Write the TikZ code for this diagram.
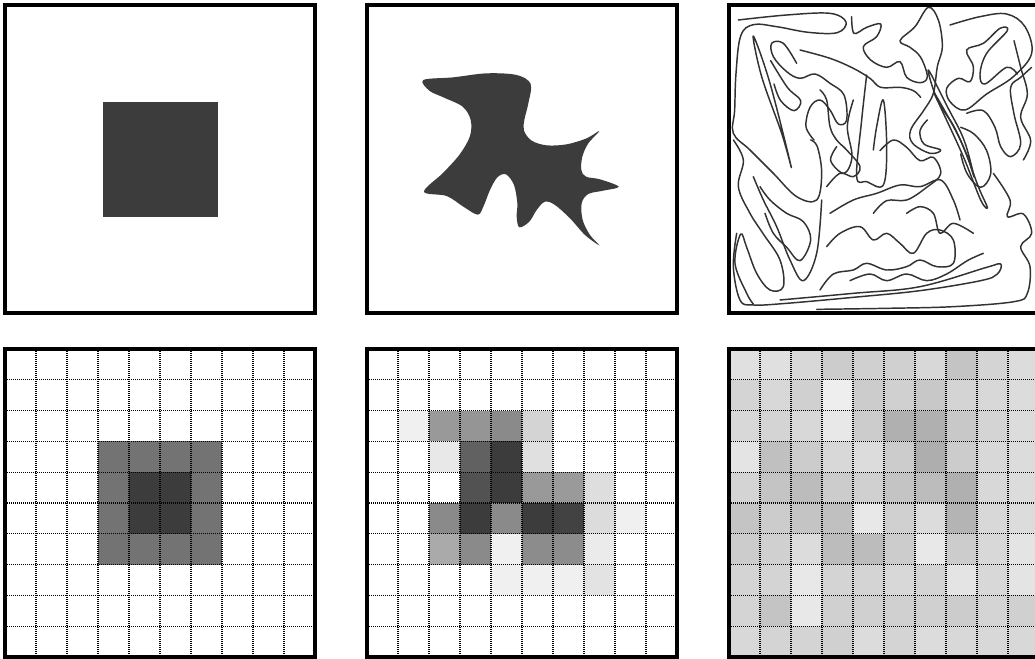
\documentclass[tikz,border=0pt]{standalone}
\begin{document}
\begin{tikzpicture}[x=0.75pt,y=-0.75pt,
  frame/.style={draw=black,line width=2.4pt},
  gridline/.style={draw=black,line width=1pt,dash pattern=on 0.8pt off 0.7pt},
  blobfill/.style={fill={rgb,255:red,60;green,60;blue,60}},
  squig/.style={draw={rgb,255:red,50;green,50;blue,50},line width=1.1pt,line join=round,line cap=round}
]
\useasboundingbox (0,0) rectangle (1035,659);
\clip (0,0) rectangle (1035,659);
\fill[white] (0,0) rectangle (1035,659);

% ---------- top row ----------
% panel 1: square
\fill[blobfill] (103,102) rectangle (218,217);

% panel 2: blob
\begin{scope}[shift={(410,60)},scale=1/3]
\fill[blobfill] plot[smooth cycle,tension=0.55] coordinates {
(40,60) (130,52) (230,40) (320,45) (362,72) (355,130) (343,180) (342,212)
(365,242) (410,256) (470,253) (530,235) (568,213)
(535,250) (517,290) (514,330) (528,350) (570,358) (626,380)
(580,392) (535,402) (515,430) (518,480) (540,525) (568,556)
(525,525) (480,475) (435,435) (405,425) (380,450) (358,485) (328,502) (320,470) (322,430) (312,375) (288,343) (262,352) (240,390) (220,440) (203,464)
(160,440) (110,408) (42,395)
(100,338) (150,282) (180,228) (182,180) (158,140) (100,112) (58,92)};
\end{scope}

% panel 3: squiggle
\begin{scope}
\clip (731,6) rectangle (1040,312);
\begin{scope}[shift={(720,0)},scale=1/3]
\draw[squig] plot[smooth,tension=0.6] coordinates {(55,60) (200,45) (330,40) (378,66) (352,98) (265,97) (170,80) (100,74) (62,108) (48,220) (44,330) (40,400) (90,450) (160,520) (230,590) (290,600) (305,520) (292,440) (272,420)};
\draw[squig] plot[smooth cycle,tension=0.6] coordinates {(100,108) (150,250) (213,498) (185,400) (125,230)};
\draw[squig] plot[smooth,tension=0.6] coordinates {(230,190) (190,130) (155,130) (160,170) (200,215) (240,235) (285,222) (330,250) (372,285) (380,360) (355,372) (330,330) (300,300) (270,322) (258,380) (282,420)};
\draw[squig] plot[smooth,tension=0.6] coordinates {(240,150) (330,175) (400,205) (450,235) (482,262) (540,262) (580,272) (602,292)};
\draw[squig] plot[smooth,tension=0.6] coordinates {(395,50) (402,100) (440,82) (482,72) (470,110) (430,140) (452,180) (500,202) (540,185) (560,232) (600,248) (622,230) (602,172) (570,142) (540,122) (585,80) (625,22) (655,60) (667,140) (652,200) (640,280) (612,330) (572,390) (578,430) (630,460) (662,450) (612,432) (600,392) (622,360)};
\draw[squig] plot[smooth,tension=0.6] coordinates {(690,75) (780,50) (860,42) (915,80) (935,160) (880,230) (800,282) (735,330) (690,305) (680,265) (715,235) (750,245) (760,200) (740,150) (790,130) (840,85) (862,92) (800,160) (780,222) (795,252) (860,202) (892,222)};
\draw[squig] plot[smooth cycle,tension=0.6] coordinates {(625,210) (682,320) (732,420) (762,530) (742,470) (702,380) (652,300)};
\draw[squig] plot[smooth cycle,tension=0.6] coordinates {(645,282) (722,422) (775,560) (802,622) (782,600) (730,470) (662,322)};
\draw[squig] plot[smooth,tension=0.6] coordinates {(740,340) (790,332) (825,382) (842,440) (872,470) (902,432) (882,342) (872,262) (902,232) (935,202)};
\draw[squig] plot[smooth,tension=0.6] coordinates {(820,520) (870,600) (862,650) (910,642) (935,700) (902,740) (930,800) (922,880) (882,905) (700,920) (500,925) (290,928)};
\draw[squig] plot[smooth,tension=0.6] coordinates {(180,900) (400,880) (600,860) (800,802) (842,792) (832,822) (782,842) (600,872) (400,892) (200,910) (100,915) (60,900) (40,800) (50,700)};
\draw[squig] plot[smooth,tension=0.6] coordinates {(40,420) (70,480) (55,560) (90,640) (130,702) (180,780) (190,860) (150,870) (110,820) (80,742) (62,702) (45,790) (80,880) (100,912)};
\draw[squig] plot[smooth,tension=0.6] coordinates {(100,530) (130,600) (170,680) (210,780) (250,842) (290,760) (305,600)};
\draw[squig] plot[smooth,tension=0.6] coordinates {(440,225) (425,360) (410,530) (440,545) (490,555) (500,440) (490,300) (470,380) (460,450)};
\draw[squig] plot[smooth,tension=0.6] coordinates {(330,640) (400,600) (470,580) (540,555) (600,560) (662,540) (700,600) (720,660)};
\draw[squig] plot[smooth,tension=0.6] coordinates {(320,740) (360,700) (420,680) (460,720) (500,700) (540,730) (580,760) (620,700) (660,690) (700,720) (700,790) (650,800) (600,780) (560,800) (500,810) (440,790) (400,810) (340,822) (300,870)};
\draw[squig] plot[smooth,tension=0.6] coordinates {(320,560) (360,520) (400,530) (420,500) (380,450) (350,420) (330,380) (320,300) (300,270)};
% extra strokes to match density
\draw[squig] plot[smooth,tension=0.6] coordinates {(120,560) (150,600) (200,640) (250,665) (272,720) (240,782) (200,742) (160,700) (135,640)};
\draw[squig] plot[smooth,tension=0.6] coordinates {(400,300) (382,380) (396,470) (372,520) (332,482) (350,440)};
\draw[squig] plot[smooth,tension=0.6] coordinates {(480,452) (520,420) (560,442) (600,482) (640,472) (662,522) (620,562) (560,600) (500,602) (460,640)};
\draw[squig] plot[smooth,tension=0.6] coordinates {(722,382) (762,402) (800,452) (812,522) (782,562) (742,522) (722,462)};
\draw[squig] plot[smooth,tension=0.6] coordinates {(390,842) (450,822) (500,842) (560,822) (620,842) (680,822) (742,782) (790,760)};
\draw[squig] plot[smooth,tension=0.6] coordinates {(882,122) (902,202) (922,282) (902,352) (932,422) (910,480)};
\draw[squig] plot[smooth,tension=0.6] coordinates {(152,182) (202,262) (242,302) (222,332) (182,302) (162,252)};
\draw[squig] plot[smooth,tension=0.6] coordinates {(560,640) (600,620) (640,640) (660,700) (700,670) (760,700)};
\end{scope}
\end{scope}

\draw[frame] (5,5) rectangle (315,313);
\draw[frame] (367,5) rectangle (677,313);
\draw[frame] (729,5) rectangle (1039,313);

% ---------- bottom row ----------
% panel 4 cells
\foreach \r/\c/\v in {3/3/115,3/4/115,3/5/115,3/6/115,4/3/115,4/6/115,5/3/115,5/6/115,6/3/115,6/4/115,6/5/115,6/6/115,4/4/60,4/5/60,5/4/60,5/5/60}
  \fill[fill={rgb,255:red,\v;green,\v;blue,\v}] ({5+\c*31},{349+\r*30.8}) rectangle ++(31,30.8);

% panel 5 cells
\foreach \r/\c/\v in {2/1/240,2/2/153,2/3/149,2/4/138,2/5/212,
  3/2/232,3/3/97,3/4/60,3/5/224,
  4/3/82,4/4/60,4/5/153,4/6/154,4/7/222,
  5/2/138,5/3/60,5/4/138,5/5/60,5/6/66,5/7/220,5/8/240,
  6/2/170,6/3/138,6/4/240,6/5/140,6/6/140,6/7/235,
  7/4/240,7/5/240,7/6/240,7/7/227}
  \fill[fill={rgb,255:red,\v;green,\v;blue,\v}] ({367+\c*31},{349+\r*30.8}) rectangle ++(31,30.8);

% panel 6 cells
\foreach \row [count=\r from 0] in {
 {224,224,216,204,208,208,216,196,212,220},
 {212,216,208,238,204,208,200,212,216,220},
 {216,212,216,232,204,176,176,200,212,220},
 {228,192,204,216,220,204,174,204,216,220},
 {212,196,188,204,208,196,188,176,216,220},
 {196,204,196,192,232,208,220,180,216,220},
 {204,208,220,188,188,204,232,204,216,228},
 {212,212,232,212,212,216,212,228,216,228},
 {212,196,232,208,208,208,208,204,212,208},
 {216,212,212,208,220,212,220,216,216,216}}
 \foreach \v [count=\c from 0] in \row
  \fill[fill={rgb,255:red,\v;green,\v;blue,\v}] ({729+\c*31},{349+\r*30.8}) rectangle ++(31,30.8);

\foreach \X in {5,367,729}{
  \foreach \i in {1,...,9}{
    \draw[gridline] ({\X+\i*31},349) -- ++(0,308);
    \draw[gridline] (\X,{349+\i*30.8}) -- ++(310,0);
  }
  \draw[frame] (\X,349) rectangle ++(310,308);
}
\end{tikzpicture}
\end{document}
